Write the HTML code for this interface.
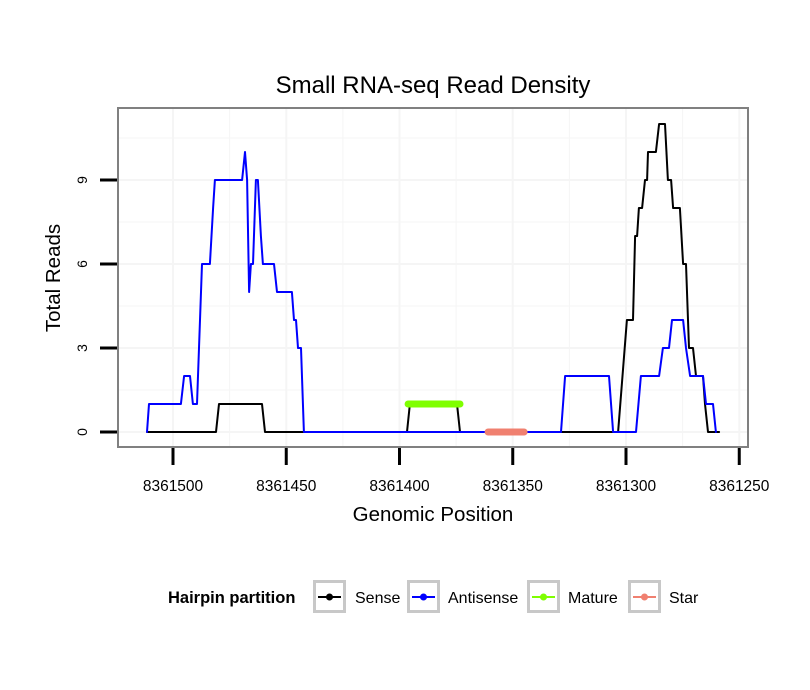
<!DOCTYPE html>
<html><head><meta charset="utf-8"><style>
body{margin:0;background:#fff;}
svg{display:block;font-family:"Liberation Sans",sans-serif;}
</style></head><body>
<svg id="chart" width="810" height="690">
<rect width="810" height="690" fill="#fff"/>
<text x="433" y="93" font-size="24" text-anchor="middle">Small RNA-seq Read Density</text>
<g id="grid"></g>
<g id="series"></g>
<rect x="118" y="108" width="630" height="339" fill="none" stroke="#808080" stroke-width="2"/>
<g id="axes"></g>
<text x="433" y="521" font-size="20.5" text-anchor="middle">Genomic Position</text>
<text transform="translate(60,278) rotate(-90)" font-size="20.5" text-anchor="middle">Total Reads</text>
<g>
<text x="168" y="603" font-size="16.5" font-weight="bold">Hairpin partition</text>
<g><rect x="314.5" y="581.5" width="30" height="30" fill="#fff" stroke="#c8c8c8" stroke-width="3"/><line x1="318" y1="597" x2="341" y2="597" stroke="#000" stroke-width="2"/><circle cx="329.5" cy="597" r="3.5" fill="#000"/><text x="355" y="603" font-size="16">Sense</text></g>
<g><rect x="408.5" y="581.5" width="30" height="30" fill="#fff" stroke="#c8c8c8" stroke-width="3"/><line x1="412" y1="597" x2="435" y2="597" stroke="#0000ff" stroke-width="2"/><circle cx="423.5" cy="597" r="3.5" fill="#0000ff"/><text x="448" y="603" font-size="16">Antisense</text></g>
<g><rect x="528.5" y="581.5" width="30" height="30" fill="#fff" stroke="#c8c8c8" stroke-width="3"/><line x1="532" y1="597" x2="555" y2="597" stroke="#7fff00" stroke-width="2"/><circle cx="543.5" cy="597" r="3.5" fill="#7fff00"/><text x="568" y="603" font-size="16">Mature</text></g>
<g><rect x="629.5" y="581.5" width="30" height="30" fill="#fff" stroke="#c8c8c8" stroke-width="3"/><line x1="633" y1="597" x2="656" y2="597" stroke="#f08070" stroke-width="2"/><circle cx="644.5" cy="597" r="3.5" fill="#f08070"/><text x="669" y="603" font-size="16">Star</text></g>
</g>
</svg>
<script>
const xTicks=[8361500,8361450,8361400,8361350,8361300,8361250];
const yTicks=[0,3,6,9];
const sensePos=[8361511.5,8361481.0,8361479.7,8361460.7,8361459.4,8361396.7,8361395.4,8361374.6,8361373.3,8361303.5,8361299.6,8361296.9,8361296.0,8361295.1,8361294.3,8361292.9,8361291.6,8361290.7,8361290.3,8361286.8,8361285.4,8361282.8,8361281.5,8361280.1,8361279.2,8361276.2,8361274.8,8361273.5,8361272.2,8361270.4,8361269.1,8361266.0,8361265.1,8361263.8,8361258.9];
const senseVal=[0,0,1,1,0,0,1,1,0,0,4,4,7,7,8,8,9,9,10,10,11,11,9,9,8,8,6,6,3,3,2,2,1,0,0];
const antiPos=[8361511.5,8361510.6,8361496.5,8361495.1,8361492.5,8361491.2,8361489.4,8361487.2,8361483.7,8361482.3,8361481.5,8361469.5,8361468.2,8361467.3,8361466.4,8361465.6,8361464.7,8361463.4,8361462.5,8361461.2,8361460.3,8361455.4,8361454.1,8361447.5,8361446.6,8361445.7,8361444.8,8361443.5,8361442.2,8361328.7,8361326.9,8361307.5,8361305.7,8361295.6,8361293.4,8361285.4,8361283.7,8361281.0,8361279.7,8361274.8,8361273.5,8361271.7,8361266.0,8361264.7,8361261.6,8361260.3];
const antiVal=[0,1,1,2,2,1,1,6,6,8,9,9,10,9,5,6,6,9,9,7,6,6,5,5,4,4,3,3,0,0,2,2,0,0,2,2,3,3,4,4,3,2,2,1,1,0];
const maturePos=[8361396.2,8361373.3];
const matureVal=[1,1];
const starPos=[8361360.9,8361345.0];
const starVal=[0,0];
const NS="http://www.w3.org/2000/svg";
function xs(v){return 173+(8361500-v)*2.265;}
function ys(v){return 432-v*28;}
function mk(tag,attrs,parent){const e=document.createElementNS(NS,tag);for(const k in attrs)e.setAttribute(k,attrs[k]);parent.appendChild(e);return e;}
const grid=document.getElementById('grid'),axes=document.getElementById('axes'),series=document.getElementById('series');
[8361475,8361425,8361375,8361325,8361275].concat(xTicks).forEach(v=>{const x=xs(v);if(x>119&&x<747){const l=mk('line',{x1:x,x2:x,y1:109,y2:446,stroke:'#f5f5f5','stroke-width':xTicks.includes(v)?2:1},grid);}});
[1.5,4.5,7.5,10.5].concat(yTicks).forEach(v=>{const y=ys(v);const l=mk('line',{x1:119,x2:747,y1:y,y2:y,stroke:'#f5f5f5','stroke-width':Number.isInteger(v/3)?2:1},grid);});
xTicks.forEach(v=>{const x=xs(v);const t=mk('line',{x1:x,x2:x,y1:448,y2:465,stroke:'#000','stroke-width':3},axes);
const tx=mk('text',{x:x,y:491,'font-size':15.5,'text-anchor':'middle'},axes);tx.textContent=v;});
yTicks.forEach(v=>{const y=ys(v);const t=mk('line',{x1:100,x2:117,y1:y,y2:y,stroke:'#000','stroke-width':3},axes);
const tx=mk('text',{transform:`translate(87,${y}) rotate(-90)`,'font-size':14,'text-anchor':'middle'},axes);tx.textContent=v;});
function line(pos,val,color,w,name){const d=pos.map((p,i)=>(i?'L':'M')+xs(p).toFixed(1)+','+ys(val[i]).toFixed(1)).join('');const p=mk('path',{d:d,fill:'none',stroke:color,'stroke-width':w,'stroke-linejoin':'round','stroke-linecap':'round'},series);

}
line(sensePos,senseVal,'#000',2,'sense-line');
line(antiPos,antiVal,'#0000ff',2,'antisense-line');
line(maturePos,matureVal,'#7fff00',7,'mature-segment');
line(starPos,starVal,'#f08070',7,'star-segment');
</script>
</body></html>
